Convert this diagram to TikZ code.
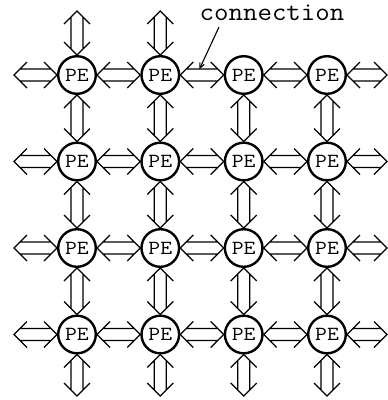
\documentclass[tikz,border=0pt]{standalone}
\usepackage{fontspec}
\newfontfamily\pefont[FakeStretch=1.15]{Latin Modern Mono}
\newfontfamily\lblfont[FakeStretch=1.08]{Latin Modern Mono}
\usetikzlibrary{calc,arrows.meta}
\newcommand\aHL{13pt}
\newcommand\aHW{13pt}
\newcommand\aSW{6pt}
\newcommand\aSH{6pt}
\tikzset{
  pe/.style={circle,draw,line width=2.4pt,minimum size=37.6pt,inner sep=0pt,
    font=\pefont\fontsize{20}{20}\selectfont},
  connline/.style={line width=1.3pt,line join=miter},
  lbl/.style={font=\lblfont\fontsize{26}{26}\selectfont,inner sep=0pt,anchor=base},
  leader/.style={line width=1.1pt,-{Straight Barb[length=5pt,width=5pt]}}
}
\newcommand\dconn[2]{%
  \draw[connline]
    ($(#1)!\aSH!(#2)!\aSW!90:(#2)$) -- ($(#2)!\aSH!(#1)!\aSW!-90:(#1)$)
    ($(#1)!\aSH!(#2)!\aSW!-90:(#2)$) -- ($(#2)!\aSH!(#1)!\aSW!90:(#1)$)
    ($(#1)!\aHL!(#2)!\aHW!90:(#2)$) -- (#1) -- ($(#1)!\aHL!(#2)!\aHW!-90:(#2)$)
    ($(#2)!\aHL!(#1)!\aHW!90:(#1)$) -- (#2) -- ($(#2)!\aHL!(#1)!\aHW!-90:(#1)$);}
\begin{document}
\begin{tikzpicture}[x=1pt,y=-1pt]
\useasboundingbox (0,0) rectangle (388,400);
% PE nodes
\foreach \c/\x in {1/77,2/160.3,3/243.7,4/327}{
  \foreach \r/\y in {1/75,2/161.5,3/248,4/334.5}{
    \node[pe] (p\r\c) at (\x,\y) {PE};
  }
}
% free ends
\foreach \c/\x in {1/77,2/160.3,3/243.7,4/327}{
  \coordinate (bot\c) at (\x,396);
}
\foreach \c/\x in {1/77,2/160.3}{
  \coordinate (top\c) at (\x,11);
}
\foreach \r/\y in {1/75,2/161.5,3/248,4/334.5}{
  \coordinate (lft\r) at (14,\y);
  \coordinate (rgt\r) at (387,\y);
}
% outer connections
\foreach \c in {1,2}{
  \dconn{top\c}{p1\c.north}
}
\foreach \c in {1,2,3,4}{
  \dconn{p4\c.south}{bot\c}
}
\foreach \r in {1,2,3,4}{
  \dconn{lft\r}{p\r1.west}
  \dconn{p\r4.east}{rgt\r}
}
% inner connections
\foreach \r in {1,2,3,4}{
  \foreach \c/\n in {1/2,2/3,3/4}{
    \dconn{p\r\c.east}{p\r\n.west}
  }
}
\foreach \c in {1,2,3,4}{
  \foreach \r/\n in {1/2,2/3,3/4}{
    \dconn{p\r\c.south}{p\n\c.north}
  }
}
% label
\node[lbl] (conlbl) at (272,20) {connection};
\coordinate (ldrS) at (219,27);
\coordinate (ldrE) at (199.5,69);
\draw[leader] (ldrS) -- (ldrE);
\end{tikzpicture}
\end{document}
